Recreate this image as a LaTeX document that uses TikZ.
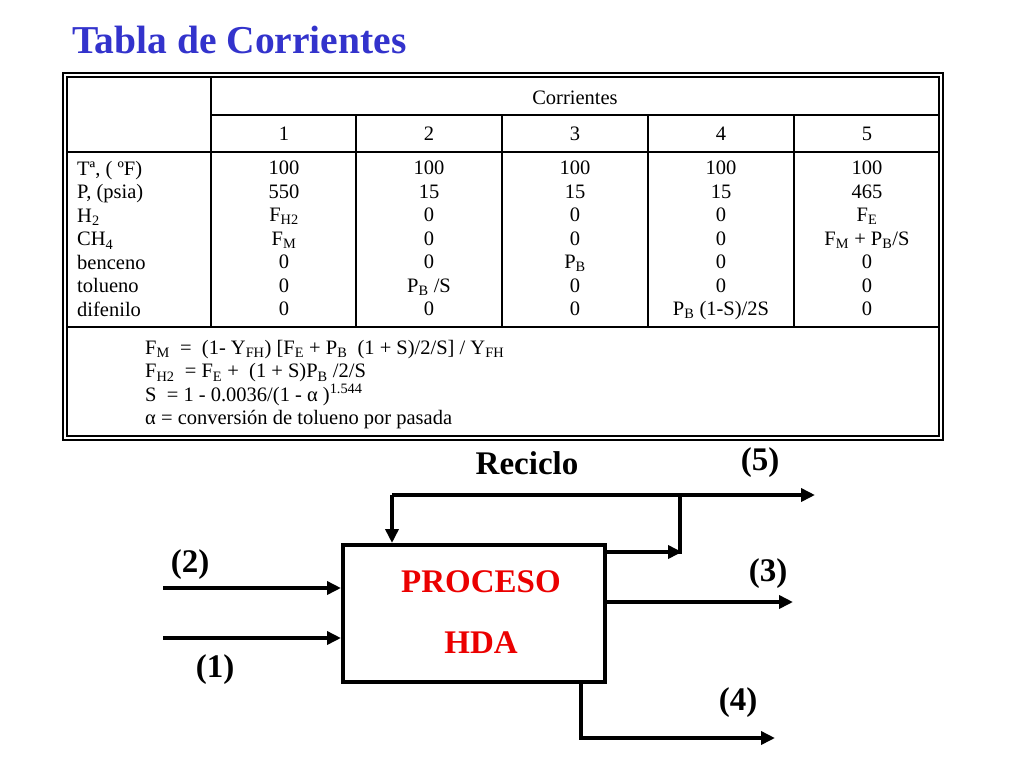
\documentclass[tikz,border=0pt]{standalone}
\usepackage{fontspec}
\setmainfont{Liberation Serif}
\usetikzlibrary{arrows.meta}
\definecolor{tblue}{RGB}{51,51,204}
\definecolor{pred}{RGB}{235,0,0}
\begin{document}
\begin{tikzpicture}[x=1pt,y=-1pt,
  cell/.style={font=\fontsize{20.5}{23.5}\selectfont,inner sep=0pt,align=center,anchor=north},
  big/.style={font=\fontsize{33}{33}\selectfont\bfseries,inner sep=0pt},
  flow/.style={line width=4pt,-{Triangle[length=14pt,width=13pt]}},
  tl/.style={line width=1.3pt}]
\useasboundingbox (0,0) rectangle (1024,768);
\node[font=\fontsize{39.5}{39.5}\selectfont\bfseries,text=tblue,anchor=west,inner sep=0pt] (title) at (72,40) {Tabla de Corrientes};
% table frame
\draw[line width=2pt] (63,73) rectangle (943,440);
\draw[tl] (67,77) rectangle (939,436);
\draw[tl] (211,77) -- (211,327);
\draw[tl] (211,115) -- (939,115);
\draw[tl] (67,152) -- (939,152);
\draw[tl] (67,327) -- (939,327);
\foreach \x in {356,502,648,794} \draw[tl] (\x,115) -- (\x,327);
\node[cell,anchor=center] (hc) at (575,98) {Corrientes};
\foreach \n/\x in {1/284,2/429,3/575,4/721,5/867} \node[cell,anchor=center] (h\n) at (\x,134) {\n};
\node[cell,align=left,anchor=north west] (rows) at (77,161) {Tª, ( ºF)\\P, (psia)\\H\textsubscript{2}\\CH\textsubscript{4}\\benceno\\tolueno\\difenilo};
\node[cell] (c1) at (284,161) {100\\550\\F\textsubscript{H2}\\F\textsubscript{M}\\0\\0\\0};
\node[cell] (c2) at (429,161) {100\\15\\0\\0\\0\\P\textsubscript{B} /S\\0};
\node[cell] (c3) at (575,161) {100\\15\\0\\0\\P\textsubscript{B}\\0\\0};
\node[cell] (c4) at (721,161) {100\\15\\0\\0\\0\\0\\P\textsubscript{B} (1-S)/2S};
\node[cell] (c5) at (867,161) {100\\465\\F\textsubscript{E}\\F\textsubscript{M} + P\textsubscript{B}/S\\0\\0\\0};
\node[cell,align=left,anchor=north west] (form) at (145,340) {F\textsubscript{M} \ =\ \ (1- Y\textsubscript{FH}) [F\textsubscript{E} + P\textsubscript{B} \ (1 + S)/2/S] / Y\textsubscript{FH}\\
F\textsubscript{H2} \ =\ F\textsubscript{E} + \ (1 + S)P\textsubscript{B} /2/S\\
S \ =\ 1 - 0.0036/(1 - α )\textsuperscript{1.544}\\
α = conversión de tolueno por pasada};
% diagram
\node[draw,line width=4pt,minimum width=262pt,minimum height=137pt,inner sep=0pt] (box) at (474,613.5) {};
\node[big,text=pred] (p1) at (481,582) {PROCESO};
\node[big,text=pred] (p2) at (481,643) {HDA};
\coordinate (r0) at (680,495);
\coordinate (r1) at (392,495);
\coordinate (r5) at (815,495);
\coordinate (in2) at (163,588);
\coordinate (in1) at (163,638);
\draw[flow] (in2) -- (in2 -| box.west);
\draw[flow] (in1) -- (in1 -| box.west);
\draw[line width=4pt] (r1) -- (r0);
\draw[flow] (r0) -- (r5);
\draw[flow] (r1) -- (r1 |- box.north);
\draw[flow] (box.east |- 0,552) -- (682,552);
\draw[line width=4pt] (680,554) -- (r0);
\draw[flow] (box.east |- 0,602) -- (793,602);
\draw[flow] (581,682) -- (581,738) -- (775,738);
\node[big] (l2) at (190,565) {(2)};
\node[big] (l1) at (215,670) {(1)};
\node[big] (l3) at (768,574) {(3)};
\node[big] (l4) at (738,703) {(4)};
\node[big] (lr) at (527,463) {Reciclo};
\node[big] (l5) at (760,463) {(5)};
\end{tikzpicture}
\end{document}
